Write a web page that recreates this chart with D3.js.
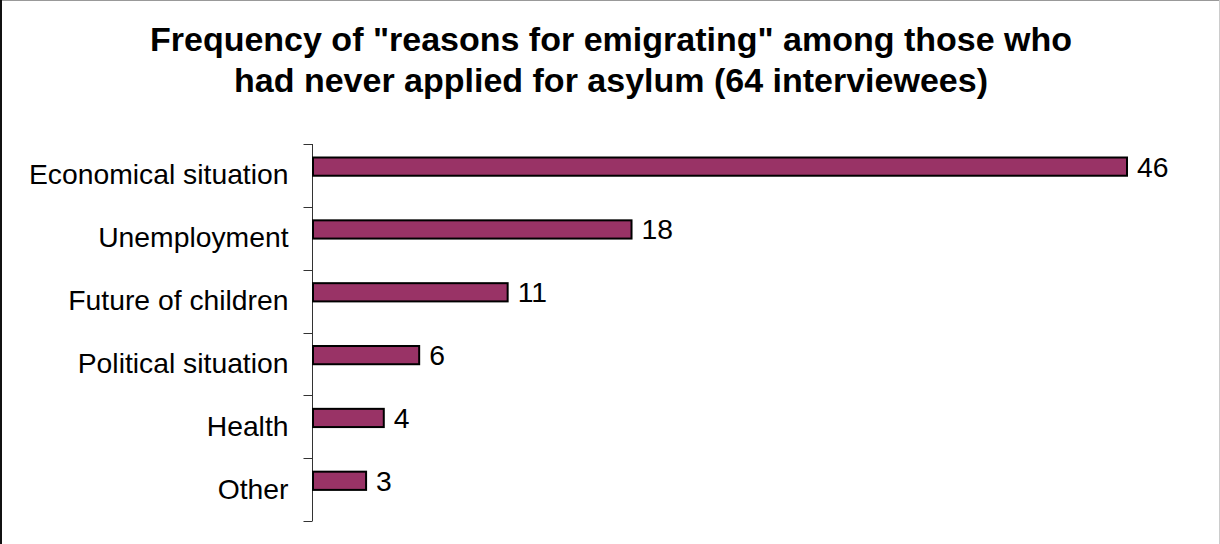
<!DOCTYPE html>
<html>
<head>
<meta charset="utf-8">
<script src="https://cdn.jsdelivr.net/npm/d3@7"></script>
<style>
    body { margin: 0; background: #fff; }
    svg { display: block; font-family: "Liberation Sans", Arial, sans-serif; }
</style>
</head>
<body>
<svg></svg>
<script>
// Data
let categories = ['Economical situation', 'Unemployment', 'Future of children', 'Political situation', 'Health', 'Other']
let values = [46, 18, 11, 6, 4, 3]
let titleLines = ['Frequency of "reasons for emigrating" among those who', 'had never applied for asylum (64 interviewees)']

let dataset = categories.map((c, i) => ({ name: c, value: values[i] }))

// Dimensions
let width = 1220
let height = 544

let svg = d3.select('svg')
    .attr('width', width)
    .attr('height', height)

// Frame
svg.append('rect')
    .attr('width', width).attr('height', height)
    .attr('fill', '#fff')
svg.append('line').attr('x1', 0.5).attr('y1', 0.5).attr('x2', width - 0.5).attr('y2', 0.5).attr('stroke', '#999')
svg.append('line').attr('x1', width - 0.5).attr('y1', 0).attr('x2', width - 0.5).attr('y2', height).attr('stroke', '#ccc')
svg.append('line').attr('x1', 1).attr('y1', 0).attr('x2', 1).attr('y2', height).attr('stroke', '#111').attr('stroke-width', 2)

// Scales
let scale = {
    x: d3.scaleLinear().domain([0, 46]).range([313, 1127]),
    y: d3.scaleBand().domain(categories).range([144, 521])
}
let bw = scale.y.bandwidth()

// Title
svg.append('text')
    .attr('x', 611)
    .attr('text-anchor', 'middle')
    .attr('font-weight', 'bold')
    .attr('font-size', 34)
    .attr('fill', '#000')
    .selectAll('tspan')
    .data(titleLines)
    .enter()
    .append('tspan')
    .attr('x', 611)
    .attr('y', (d, i) => 51 + i * 41)
    .text(d => d)

// Axis line + boundary ticks
let axisX = 312.5
svg.append('line')
    .attr('x1', axisX).attr('x2', axisX)
    .attr('y1', scale.y.range()[0]).attr('y2', scale.y.range()[1])
    .attr('stroke', '#333')
let bounds = categories.map(c => scale.y(c)).concat([scale.y(categories[categories.length - 1]) + bw])
svg.selectAll('.tick-b')
    .data(bounds)
    .enter()
    .append('line')
    .attr('class', 'tick-b')
    .attr('x1', axisX - 9).attr('x2', axisX)
    .attr('y1', d => Math.round(d) + 0.5).attr('y2', d => Math.round(d) + 0.5)
    .attr('stroke', '#333')

// Category labels
let labelAxis = d3.axisLeft(scale.y).tickSize(0).tickPadding(24)
let gy = svg.append('g')
    .attr('transform', `translate(${axisX},0)`)
    .call(labelAxis)
gy.select('.domain').remove()
gy.selectAll('text')
    .attr('font-family', '"Liberation Sans", Arial, sans-serif')
    .attr('font-size', 28.3)
    .attr('fill', '#000')

// Bars
svg.selectAll('.bar')
    .data(dataset)
    .enter()
    .append('rect')
    .attr('class', 'bar')
    .attr('x', scale.x(0))
    .attr('y', d => scale.y(d.name) + bw * 0.215)
    .attr('width', d => scale.x(d.value) - scale.x(0))
    .attr('height', bw * 0.29)
    .attr('fill', '#993366')
    .attr('stroke', '#000')
    .attr('stroke-width', 2)

// Value labels
svg.selectAll('.val')
    .data(dataset)
    .enter()
    .append('text')
    .attr('class', 'val')
    .attr('x', d => scale.x(d.value) + 10)
    .attr('y', d => scale.y(d.name) + bw * 0.36)
    .attr('dy', '0.35em')
    .attr('font-size', 28.3)
    .attr('fill', '#000')
    .text(d => d.value)
</script>
</body>
</html>
